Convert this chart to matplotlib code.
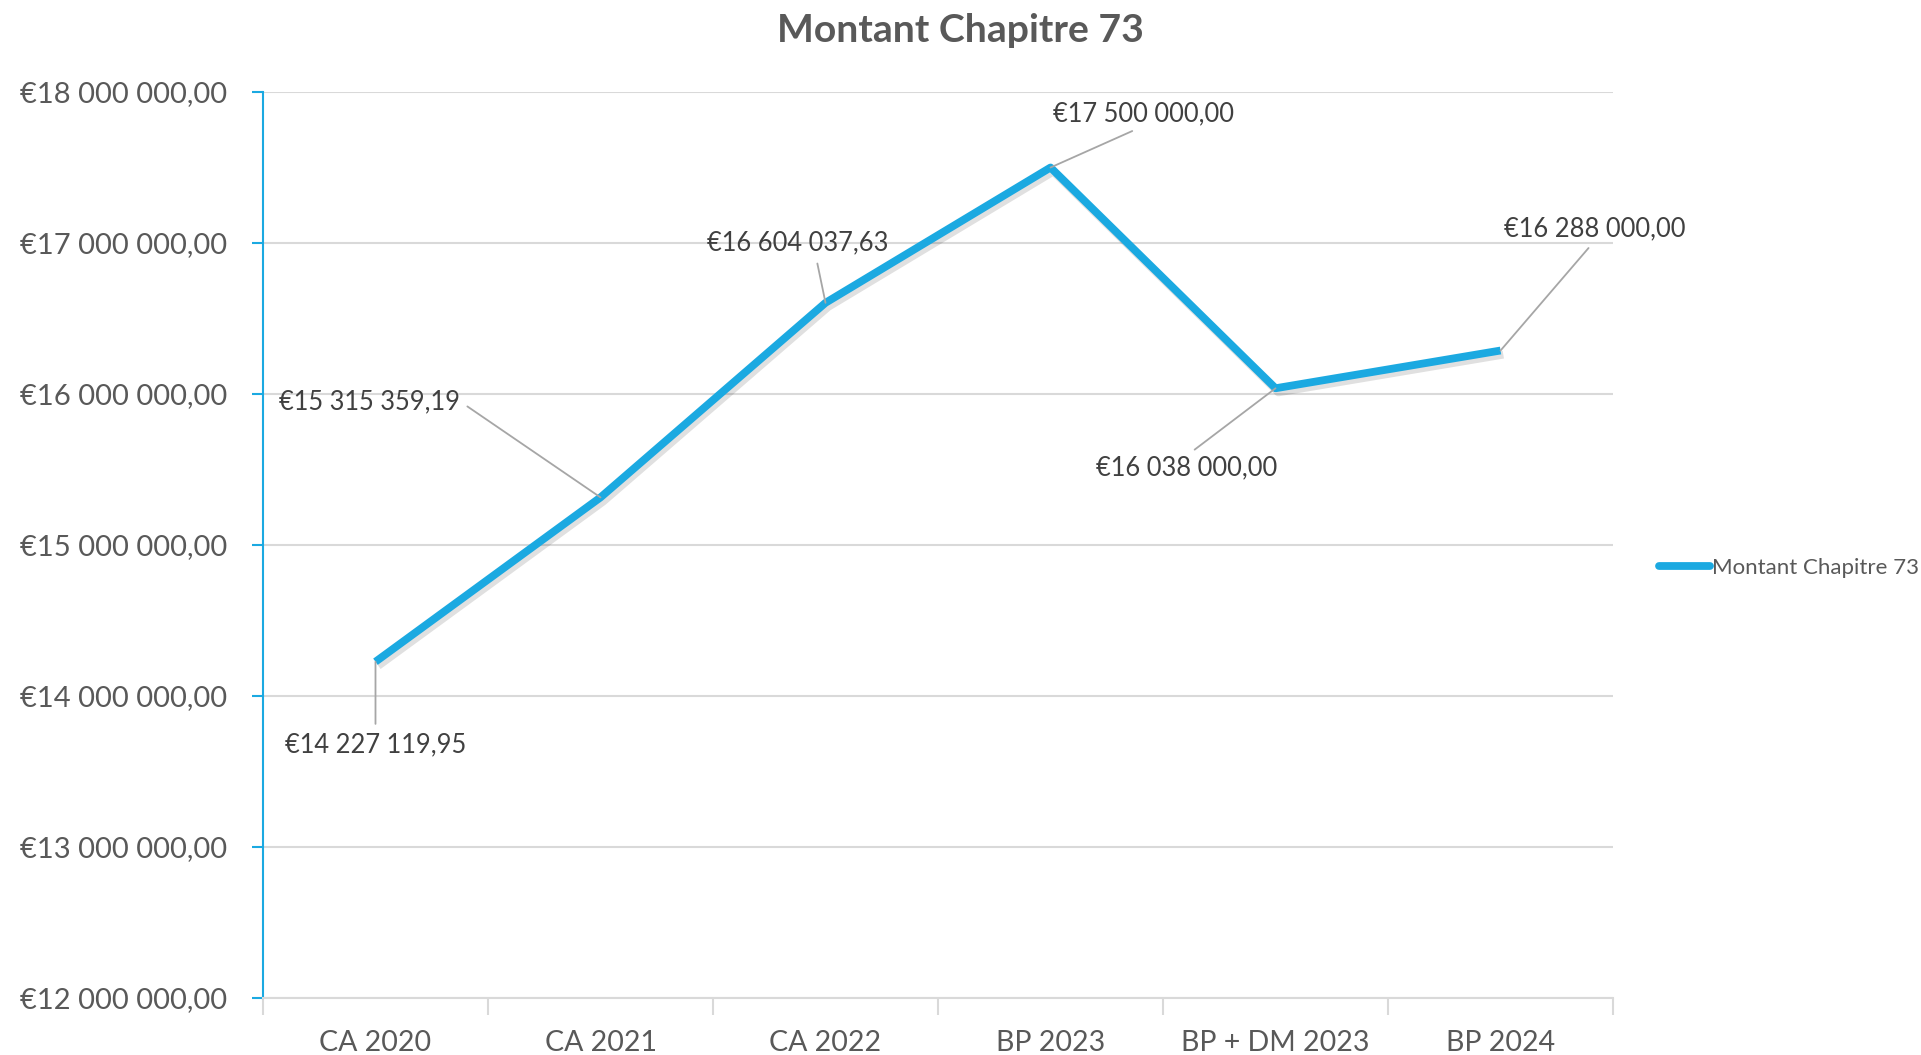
#!/usr/bin/env python3
import matplotlib
matplotlib.use("Agg")
import matplotlib.pyplot as plt
import matplotlib.patheffects as pe
from matplotlib.ticker import FuncFormatter, FixedLocator

plt.rcParams["font.family"] = ["Lato", "DejaVu Sans"]

# données
categories = ["CA 2020", "CA 2021", "CA 2022", "BP 2023", "BP + DM 2023", "BP 2024"]
montants = [14227119.95, 15315359.19, 16604037.63, 17500000.00, 16038000.00, 16288000.00]
y_ticks = [12e6, 13e6, 14e6, 15e6, 16e6, 17e6, 18e6]
serie = "Montant Chapitre 73"

BLUE = "#1BA9E1"
GREY_TXT = "#595959"
LABEL_TXT = "#404040"
GRID = "#D9D9D9"


def euro(v, pos=None):
    s = f"{v:,.2f}"
    ent, dec = s.split(".")
    return "€" + ent.replace(",", " ") + "," + dec


fig = plt.figure(figsize=(19.21, 10.55), dpi=100)
ax = fig.add_axes([0.1369, 0.054, 0.7028, 0.8588])

x = list(range(len(categories)))
ax.plot(x, montants, color=BLUE, lw=5.6, solid_capstyle="butt", label=serie,
        path_effects=[pe.SimpleLineShadow(offset=(2, -3), alpha=0.12, shadow_color="#000000"),
                      pe.Normal()], zorder=3)

ax.set_xlim(-0.5, len(categories) - 0.5)
ax.set_ylim(y_ticks[0], y_ticks[-1])
ax.yaxis.set_major_locator(FixedLocator(y_ticks))
ax.yaxis.set_major_formatter(FuncFormatter(euro))
ax.grid(True, axis="y", color=GRID, lw=1.5, zorder=0)

ax.set_xticks(x)
ax.set_xticklabels(categories)
ax.set_xticks([i - 0.5 for i in range(len(categories) + 1)], minor=True)
ax.tick_params(axis="x", which="major", length=0, pad=23, labelsize=20.5, labelcolor=GREY_TXT)
ax.tick_params(axis="x", which="minor", length=12, width=1.5, color=GRID, direction="out")
ax.tick_params(axis="y", which="major", length=8, width=1.5, color=BLUE, pad=18,
               labelsize=21, labelcolor=GREY_TXT)

for side in ("top", "right"):
    ax.spines[side].set_visible(False)
ax.spines["left"].set_color(BLUE)
ax.spines["left"].set_linewidth(1.5)
ax.spines["bottom"].set_color(GRID)
ax.spines["bottom"].set_linewidth(1.5)

# étiquettes de données : décalage (px) et point d'attache du trait de rappel
offsets = [(0, -83), (-231, 96), (-28, 60), (93, 54), (-89, -80), (94, 122)]
attach = [(0.5, 1.0), (1.0, 0.5), (0.6, 0.0), (0.5, 0.0), (0.5, 1.0), (0.5, 0.0)]
for i, v in enumerate(montants):
    ax.annotate(euro(v), xy=(i, v), xytext=offsets[i], textcoords="offset pixels",
                ha="center", va="center", fontsize=18.4, color=LABEL_TXT,
                arrowprops=dict(arrowstyle="-", color="#A6A6A6", lw=1.3,
                                relpos=attach[i], shrinkA=4, shrinkB=0))

fig.text(0.5, 1 - 31 / 1055, serie, ha="center", va="center",
         fontsize=28.2, fontweight="bold", color=GREY_TXT)

leg = ax.legend(loc="center left", bbox_to_anchor=(0.853, 0.462), bbox_transform=fig.transFigure,
                frameon=False, fontsize=16, handlelength=2.3, handletextpad=0.1,
                labelcolor=GREY_TXT)
for h in leg.get_lines():
    h.set_solid_capstyle("round")
    h.set_path_effects([])

fig.savefig("out.png", dpi=100, facecolor="white")
